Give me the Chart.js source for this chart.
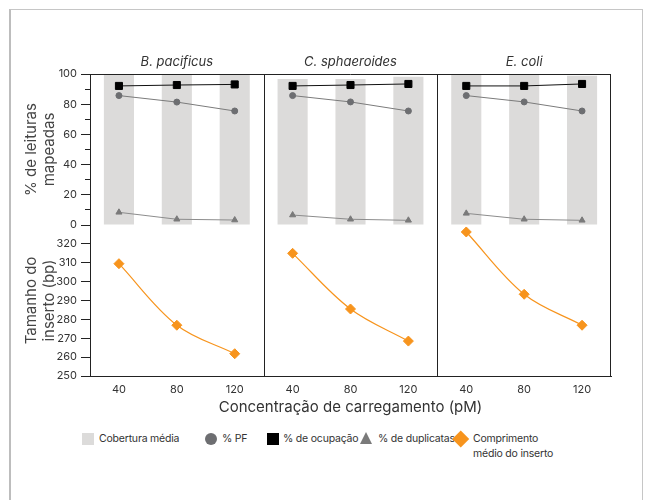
<!DOCTYPE html>
<html>
<head>
<meta charset="utf-8">
<script src="https://cdn.jsdelivr.net/npm/chart.js@4.4.0/dist/chart.umd.min.js"></script>
<style>
    body { margin: 0; background: #fff; font-family: Inter, sans-serif; }
    #card { position: absolute; left: 9px; top: 9px; width: 631px; height: 520px; border: 1px solid #c6c6c6; border-left: 2px solid #bdbdbd; }
    #wrap { position: absolute; left: 0; top: 0; width: 650px; height: 420px; }
    .leg { position: absolute; font-size: 10.5px; letter-spacing: -0.2px; color: #333; line-height: 15px; white-space: nowrap; }
    .sw { position: absolute; }
</style>
</head>
<body>
<div id="card"></div>
<div id="wrap"><canvas id="chart" width="650" height="420"></canvas></div>

<!-- Legenda -->
<div class="sw" style="left:82px;top:433px;width:12px;height:12px;background:#dcdbda"></div>
<div class="leg" style="left:99px;top:431px">Cobertura média</div>
<div class="sw" style="left:205px;top:433px;width:12px;height:12px;border-radius:50%;background:#6d6e71"></div>
<div class="leg" style="left:222px;top:431px">% PF</div>
<div class="sw" style="left:267px;top:433px;width:12px;height:12px;background:#000"></div>
<div class="leg" style="left:283px;top:431px">% de ocupação</div>
<div class="sw" style="left:360px;top:432px;width:0;height:0;border-left:6.5px solid transparent;border-right:6.5px solid transparent;border-bottom:12px solid #7a7a7a"></div>
<div class="leg" style="left:378px;top:431px">% de duplicatas</div>
<div class="sw" style="left:455px;top:433px;width:11.5px;height:11.5px;background:#f7941d;transform:rotate(45deg)"></div>
<div class="leg" style="left:473px;top:431px">Comprimento<br>médio do inserto</div>

<script>
    // Dados (um array por espécie)
    const species = ['B. pacificus', 'C. sphaeroides', 'E. coli'];
    const concentrations = ['40', '80', '120'];

    const coberturaMedia = [[100, 100, 100], [96.7, 96.7, 98.2], [100, 100, 98.9]];
    const pctPF = [[85.7, 81.4, 75.5], [85.7, 81.5, 75.5], [85.7, 81.5, 75.5]];
    const pctOcupacao = [[92.1, 92.7, 93.1], [92.1, 92.7, 93.4], [92.1, 92.1, 93.4]];
    const pctDuplicatas = [[8.4, 3.8, 3.3], [6.6, 3.8, 3.1], [7.7, 3.8, 3.1]];
    const tamanhoInserto = [[309.5, 276.9, 261.8], [315, 285.5, 268.5], [326.3, 293.3, 276.9]];

    const xLabels = species.flatMap(() => concentrations);
    const nCat = xLabels.length;

    // coloca os valores de um painel nas posições certas, o resto fica null
    function panelData(p, vals) {
        const out = new Array(nCat).fill(null);
        vals.forEach((v, i) => { out[p * concentrations.length + i] = v; });
        return out;
    }

    const tickFont = {family: 'Inter', size: 11};
    const titleFont = {family: 'Inter', size: 15};

    const datasets = [{
        type: 'bar',
        label: 'Cobertura média',
        data: coberturaMedia.flat(),
        yAxisID: 'yPct',
        backgroundColor: '#dcdbda',
        barPercentage: 0.52,
        categoryPercentage: 1,
        order: 10
    }];

    species.forEach((s, p) => {
        datasets.push({
            type: 'line', label: '% PF', data: panelData(p, pctPF[p]), yAxisID: 'yPct',
            borderColor: '#7b7b7b', borderWidth: 1, pointStyle: 'circle', pointRadius: 3,
            pointBackgroundColor: '#6d6e71', pointBorderColor: '#6d6e71', pointBorderWidth: 1,
            spanGaps: false, order: 1
        });
        datasets.push({
            type: 'line', label: '% de ocupação', data: panelData(p, pctOcupacao[p]), yAxisID: 'yPct',
            borderColor: '#111', borderWidth: 1, pointStyle: 'rect', pointRadius: 5,
            pointBackgroundColor: '#000', pointBorderColor: '#000', pointBorderWidth: 1,
            spanGaps: false, order: 0
        });
        datasets.push({
            type: 'line', label: '% de duplicatas', data: panelData(p, pctDuplicatas[p]), yAxisID: 'yPct',
            borderColor: '#8c8c8c', borderWidth: 1, pointStyle: 'triangle', pointRadius: 3.5,
            pointBackgroundColor: '#7a7a7a', pointBorderColor: '#7a7a7a', pointBorderWidth: 1,
            spanGaps: false, order: 1
        });
        datasets.push({
            type: 'line', label: 'Comprimento médio do inserto', data: panelData(p, tamanhoInserto[p]), yAxisID: 'yIns',
            borderColor: '#f7941d', borderWidth: 1.2, pointStyle: 'rectRot', pointRadius: 5,
            pointBackgroundColor: '#f7941d', pointBorderColor: '#f7941d', pointBorderWidth: 1,
            tension: 0.35, spanGaps: false, order: 0
        });
    });

    // moldura dos painéis + nomes das espécies
    const panelFrame = {
        id: 'panelFrame',
        afterDraw(chart) {
            const {ctx, chartArea: a} = chart;
            const x = chart.scales.x;
            ctx.save();
            ctx.strokeStyle = '#222';
            ctx.lineWidth = 1;
            ctx.beginPath();
            ctx.moveTo(a.left, Math.round(a.top) + 0.5);
            ctx.lineTo(a.right, Math.round(a.top) + 0.5);
            ctx.moveTo(Math.round(a.right) - 0.5, a.top);
            ctx.lineTo(Math.round(a.right) - 0.5, a.bottom);
            for (let p = 1; p < species.length; p++) {
                const k = p * concentrations.length;
                const xs = Math.round((x.getPixelForValue(k - 1) + x.getPixelForValue(k)) / 2) + 0.5;
                ctx.moveTo(xs, a.top);
                ctx.lineTo(xs, a.bottom);
            }
            ctx.stroke();

            ctx.font = 'italic 13px Inter';
            ctx.fillStyle = '#333';
            ctx.textAlign = 'center';
            ctx.textBaseline = 'middle';
            species.forEach((s, p) => {
                const k = p * concentrations.length;
                const cx = (x.getPixelForValue(k) + x.getPixelForValue(k + concentrations.length - 1)) / 2;
                ctx.fillText(s, cx, a.top - 12);
            });
            ctx.restore();
        }
    };

    const ctxChart = document.getElementById('chart').getContext('2d');
    const chart = new Chart(ctxChart, {
        data: {labels: xLabels, datasets: datasets},
        options: {
            responsive: false,
            animation: false,
            layout: {padding: {top: 74, right: 39, bottom: 0, left: 0}},
            plugins: {
                legend: {display: false},
                tooltip: {enabled: false}
            },
            scales: {
                x: {
                    type: 'category',
                    offset: true,
                    grid: {display: false, drawTicks: false},
                    border: {display: true, color: '#222', width: 1},
                    ticks: {color: '#333', font: tickFont, padding: 7, maxRotation: 0, autoSkip: false},
                    title: {display: true, text: 'Concentração de carregamento (pM)', color: '#333', font: titleFont, padding: {top: 0, bottom: 4}},
                    afterFit(s) { s.height = 44; }
                },
                yIns: {
                    type: 'linear',
                    position: 'left',
                    stack: 'painel',
                    stackWeight: 1,
                    min: 250,
                    max: 330,
                    grid: {drawOnChartArea: false, drawTicks: true, tickLength: 9, color: '#222'},
                    border: {display: true, color: '#222', width: 1},
                    ticks: {
                        stepSize: 10, autoSkip: false, color: '#333', font: tickFont, padding: 4,
                        callback: v => v === 330 ? '' : v
                    },
                    title: {display: true, text: ['Tamanho do', 'inserto (bp)'], color: '#444', font: titleFont, padding: {top: 22, bottom: 0}},
                    afterFit(s) { s.width = 90; }
                },
                yPct: {
                    type: 'linear',
                    position: 'left',
                    stack: 'painel',
                    stackWeight: 1,
                    min: 0,
                    max: 100,
                    grid: {
                        drawOnChartArea: false, drawTicks: true, tickLength: 9, color: '#222',
                        tickBorderDash: c => (c.tick && c.tick.value % 20 !== 0) ? [0, 4, 5, 0] : []
                    },
                    border: {display: true, color: '#222', width: 1},
                    ticks: {
                        stepSize: 10, autoSkip: false, color: '#333', font: tickFont, padding: 4,
                        callback: v => v % 20 === 0 ? v : ''
                    },
                    title: {display: true, text: ['% de leituras', 'mapeadas'], color: '#444', font: titleFont, padding: {top: 22, bottom: 0}},
                    afterFit(s) { s.width = 90; }
                }
            }
        },
        plugins: [panelFrame]
    });
</script>
</body>
</html>
